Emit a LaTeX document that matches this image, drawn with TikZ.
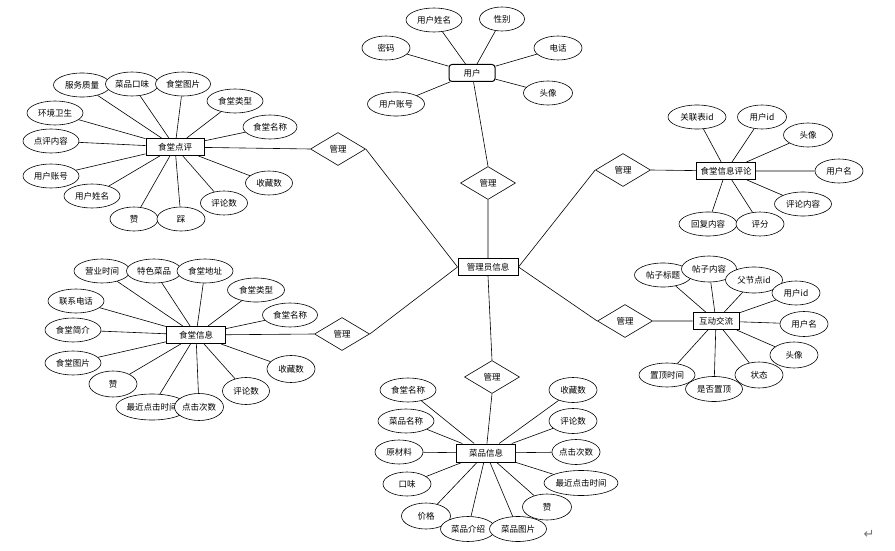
\documentclass[tikz,border=0pt]{standalone}
\usepackage{fontspec}
\setmainfont{Noto Sans CJK SC}
\newfontfamily\symfont{DejaVu Sans}
\usetikzlibrary{shapes.geometric}
\begin{document}
\begin{tikzpicture}[x=1pt,y=-1pt,line width=0.6pt,
  every node/.style={font=\fontsize{8.5}{10}\selectfont},
  attr/.style={draw,ellipse,fill=white,inner sep=0pt,minimum height=24pt,minimum width=#1},
  attr/.default=56pt,
  ent/.style={draw,line width=1pt,fill=white,inner sep=0pt,minimum height=17pt,minimum width=#1},
  ent/.default=58pt,
  rel/.style={draw,diamond,fill=white,inner sep=0pt,minimum width=55pt,minimum height=33pt}]
\useasboundingbox (0,0) rectangle (895,551);
% centre and relations
\node[ent=60pt] (gly) at (488,267) {管理员信息};
\node[rel] (r1) at (488,183) {管理};
\node[rel] (r2) at (338,149) {管理};
\node[rel] (r3) at (623,170) {管理};
\node[rel] (r4) at (342,334) {管理};
\node[rel] (r5) at (625,321) {管理};
\node[rel] (r6) at (492,377) {管理};
% user
\node[ent=46pt,rounded corners=3pt] (yh) at (472,73) {用户};
\node[attr] (yh1) at (434,20) {用户姓名};
\node[attr=45pt] (yh2) at (502,19) {性别};
\node[attr=48pt] (yh3) at (386,48) {密码};
\node[attr=48pt] (yh4) at (558,48) {电话};
\node[attr=49pt] (yh5) at (548,93) {头像};
\node[attr=57pt] (yh6) at (396,104) {用户账号};
\draw (yh) -- (yh1) (yh) -- (yh2) (yh) -- (yh3) (yh) -- (yh4) (yh) -- (yh5) (yh) -- (yh6);
% canteen review
\node[ent] (pl) at (175,147) {食堂点评};
\node[attr=57pt] (pl1) at (82,85) {服务质量};
\node[attr=53pt] (pl2) at (132,84) {菜品口味};
\node[attr=55pt] (pl3) at (183,84) {食堂图片};
\node[attr] (pl4) at (235,101) {食堂类型};
\node[attr=54pt] (pl5) at (270,127) {食堂名称};
\node[attr] (pl6) at (55,113) {环境卫生};
\node[attr] (pl7) at (51,141) {点评内容};
\node[attr] (pl8) at (51,176) {用户账号};
\node[attr] (pl9) at (92,196) {用户姓名};
\node[attr=48pt] (pl10) at (134,219) {赞};
\node[attr=48pt] (pl11) at (181,219) {踩};
\node[attr=47pt] (pl12) at (224,203) {评论数};
\node[attr=47pt] (pl13) at (269,183) {收藏数};
\draw (pl) -- (pl1) (pl) -- (pl2) (pl) -- (pl3) (pl) -- (pl4) (pl) -- (pl5)
  (pl) -- (pl6) (pl) -- (pl7) (pl) -- (pl8) (pl) -- (pl9) (pl) -- (pl10)
  (pl) -- (pl11) (pl) -- (pl12) (pl) -- (pl13);
% canteen info comment
\node[ent=59pt] (xxpl) at (726,171) {食堂信息评论};
\node[attr=58pt] (xp1) at (697,117) {关联表id};
\node[attr=49pt] (xp2) at (762,117) {用户id};
\node[attr=49pt] (xp3) at (808,135) {头像};
\node[attr=48pt] (xp4) at (839,171) {用户名};
\node[attr=57pt] (xp5) at (803,204) {评论内容};
\node[attr=58pt] (xp6) at (708,224) {回复内容};
\node[attr=48pt] (xp7) at (760,224) {评分};
\draw (xxpl) -- (xp1) (xxpl) -- (xp2) (xxpl) -- (xp3) (xxpl) -- (xp4)
  (xxpl) -- (xp5) (xxpl) -- (xp6) (xxpl) -- (xp7);
% canteen info
\node[ent=59pt] (st) at (196,335) {食堂信息};
\node[attr] (st1) at (102,271) {营业时间};
\node[attr=55pt] (st2) at (154,271) {特色菜品};
\node[attr] (st3) at (205,271) {食堂地址};
\node[attr=57pt] (st4) at (256,290) {食堂类型};
\node[attr=55pt] (st5) at (290,315) {食堂名称};
\node[attr] (st6) at (76,301) {联系电话};
\node[attr] (st7) at (73,330) {食堂简介};
\node[attr] (st8) at (73,363) {食堂图片};
\node[attr=48pt,minimum height=26pt] (st9) at (113,384) {赞};
\node[attr=71pt,minimum height=26pt] (st10) at (152,407) {最近点击时间};
\node[attr=49pt,minimum height=27pt] (st11) at (199,407) {点击次数};
\node[attr=47pt,minimum height=27pt] (st12) at (246,391) {评论数};
\node[attr=48pt,minimum height=27pt] (st13) at (291,369) {收藏数};
\draw (st) -- (st1) (st) -- (st2) (st) -- (st3) (st) -- (st4) (st) -- (st5)
  (st) -- (st6) (st) -- (st7) (st) -- (st8) (st) -- (st9) (st) -- (st10)
  (st) -- (st11) (st) -- (st12) (st) -- (st13);
% posts
\node[ent=46pt] (hd) at (716,321) {互动交流};
\node[attr=57pt] (hd1) at (663,275) {帖子标题};
\node[attr=55pt,minimum height=26pt] (hd2) at (709,269) {帖子内容};
\node[attr=57pt,minimum height=26pt] (hd3) at (754,280) {父节点id};
\node[attr=48pt] (hd4) at (796,293) {用户id};
\node[attr=48pt,minimum height=25pt] (hd5) at (804,324) {用户名};
\node[attr=48pt,minimum height=26pt] (hd6) at (794,355) {头像};
\node[attr=48pt,minimum height=26pt] (hd7) at (759,375) {状态};
\node[attr=57pt,minimum height=25pt] (hd8) at (714,389) {是否置顶};
\node[attr] (hd9) at (667,375) {置顶时间};
\draw (hd) -- (hd1) (hd) -- (hd2) (hd) -- (hd3) (hd) -- (hd4) (hd) -- (hd5)
  (hd) -- (hd6) (hd) -- (hd7) (hd) -- (hd8) (hd) -- (hd9);
% dishes
\node[ent=59pt,minimum height=18pt] (cp) at (486,453) {菜品信息};
\node[attr] (cp1) at (408,390) {食堂名称};
\node[attr] (cp2) at (406,421) {菜品名称};
\node[attr=48pt] (cp3) at (399,452) {原材料};
\node[attr=48pt] (cp4) at (407,484) {口味};
\node[attr=49pt,minimum height=26pt] (cp5) at (426,516) {价格};
\node[attr=55pt,minimum height=25pt] (cp6) at (468,529) {菜品介绍};
\node[attr=57pt,minimum height=25pt] (cp7) at (518,529) {菜品图片};
\node[attr=49pt,minimum height=26pt] (cp8) at (547,507) {赞};
\node[attr=74pt,minimum height=25pt] (cp9) at (581,483) {最近点击时间};
\node[attr=48pt,minimum height=25pt] (cp10) at (576,452) {点击次数};
\node[attr=48pt,minimum height=25pt] (cp11) at (573,421) {评论数};
\node[attr=48pt,minimum height=25pt] (cp12) at (573,390) {收藏数};
\draw (cp) -- (cp1) (cp) -- (cp2) (cp) -- (cp3) (cp) -- (cp4) (cp) -- (cp5)
  (cp) -- (cp6) (cp) -- (cp7) (cp) -- (cp8) (cp) -- (cp9) (cp) -- (cp10)
  (cp) -- (cp11) (cp) -- (cp12);
% relations to the centre
\draw (yh) -- (r1.north) (r1.south) -- (gly.north);
\draw (pl) -- (r2.west) (r2.east) -- (gly.west);
\draw (xxpl) -- (r3.east) (r3.west) -- (gly.east);
\draw (st) -- (r4.west) (r4.east) -- (gly.west);
\draw (hd) -- (r5.east) (r5.west) -- (gly.east);
\draw (cp) -- (r6.south) (r6.north) -- (gly.south);
\node[text=black!55,font=\symfont\fontsize{13}{14}\selectfont] (ret) at (869,534) {↵};
\end{tikzpicture}
\end{document}
